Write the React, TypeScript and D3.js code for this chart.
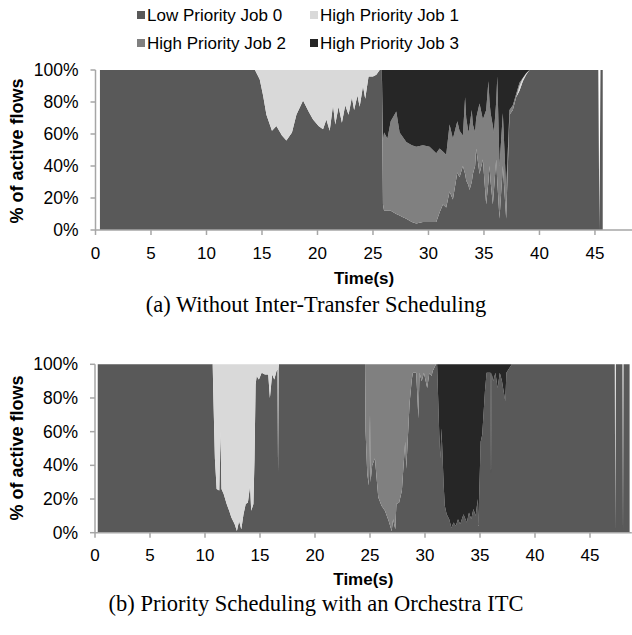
import React from "react";
import * as d3 from "d3";

// ---------- Legend / series ----------
const JOBS = ["Low Priority Job 0", "High Priority Job 1", "High Priority Job 2", "High Priority Job 3"];
const JOB_COLORS = ["#595959", "#d9d9d9", "#808080", "#262626"];
const Y_TICKS = [0, 0.2, 0.4, 0.6, 0.8, 1];
const X_TICKS = [0, 5, 10, 15, 20, 25, 30, 35, 40, 45];

// ---------- (a) Without Inter-Transfer Scheduling ----------
const TIME_A = [
  0.4, 14.37, 14.8, 15.1, 15.4, 15.9, 16.3, 16.8, 17.2, 17.7,
  18.1, 18.7, 19.2, 19.6, 20.1, 20.5, 20.8, 21.1, 21.4, 21.6,
  21.9, 22.2, 22.5, 22.8, 23.1, 23.3, 23.6, 23.8, 24.1, 24.3,
  24.6, 25.0, 25.3, 25.6, 25.8, 25.9, 26.0, 26.3, 26.6, 27.1,
  27.4, 27.7, 28.0, 28.5, 28.9, 29.5, 30.1, 30.7, 31.0, 31.3,
  31.6, 31.9, 32.2, 32.6, 32.8, 33.1, 33.3, 33.4, 33.6, 33.7,
  33.9, 34.0, 34.2, 34.3, 34.6, 34.9, 35.2, 35.4, 35.5, 35.6,
  35.8, 35.9, 36.1, 36.2, 36.4, 36.7, 37.0, 37.3, 37.6, 37.9,
  38.2, 38.5, 38.8, 39.1, 45.3, 45.4, 45.5, 45.7,
];
const JOB0_A = [
  100, 100, 94, 84, 72, 62, 65, 59, 56, 61,
  72, 81, 74, 69, 65, 63, 69, 62, 78, 66,
  77, 67, 78, 72, 83, 75, 84, 77, 90, 82,
  96, 96, 97, 100, 100, 16, 12, 12, 12, 10,
  9, 8, 7, 5, 4, 5, 5, 5, 11, 16,
  14, 24, 19, 36, 33, 40, 35, 31, 28, 25,
  30, 35, 40, 51, 35, 44, 16, 30, 40, 30,
  16, 25, 44, 30, 7, 40, 7, 72, 75, 83,
  87, 93, 97, 100, 100, 0, 100, 100,
];
const JOB1_A = [
  0, 0, 6, 16, 28, 38, 35, 41, 44, 39,
  28, 19, 26, 31, 35, 37, 31, 38, 22, 34,
  23, 33, 22, 28, 17, 25, 16, 23, 10, 18,
  4, 4, 3, 0, 0, 0, 0, 0, 0, 0,
  0, 0, 0, 0, 0, 0, 0, 0, 0, 0,
  0, 0, 0, 0, 0, 0, 0, 0, 0, 0,
  0, 0, 0, 0, 0, 0, 0, 0, 0, 0,
  0, 0, 0, 0, 0, 0, 0, 0, 0, 0,
  3, 2, 1, 0, 0, 0, 0, 0,
];
const JOB2_A = [
  0, 0, 0, 0, 0, 0, 0, 0, 0, 0,
  0, 0, 0, 0, 0, 0, 0, 0, 0, 0,
  0, 0, 0, 0, 0, 0, 0, 0, 0, 0,
  0, 0, 0, 0, 0, 40, 49, 45, 56, 64,
  52, 50, 48, 48, 48, 48, 47, 43, 40, 33,
  33, 42, 38, 32, 29, 19, 48, 39, 33, 40,
  45, 31, 21, 19, 44, 25, 59, 63, 40, 43,
  49, 36, 36, 66, 33, 33, 18, 3, 3, 2,
  2, 0, 0, 0, 0, 0, 0, 0,
];
const JOB3_A = [
  0, 0, 0, 0, 0, 0, 0, 0, 0, 0,
  0, 0, 0, 0, 0, 0, 0, 0, 0, 0,
  0, 0, 0, 0, 0, 0, 0, 0, 0, 0,
  0, 0, 0, 0, 0, 44, 39, 43, 32, 26,
  39, 42, 45, 47, 48, 47, 48, 52, 49, 51,
  53, 34, 43, 32, 38, 41, 17, 30, 39, 35,
  25, 34, 39, 30, 21, 31, 25, 7, 20, 27,
  35, 39, 20, 4, 60, 27, 75, 25, 22, 15,
  8, 5, 2, 0, 0, 0, 0, 0,
];

// ---------- (b) Priority Scheduling with an Orchestra ITC ----------
const TIME_B = [
  0.25, 10.7, 10.75, 10.9, 11.06, 11.3, 11.4, 11.5, 11.7, 11.97,
  12.2, 12.4, 12.7, 12.9, 13.1, 13.3, 13.5, 13.7, 13.9, 14.1,
  14.2, 14.4, 14.5, 14.6, 14.7, 14.9, 15.15, 15.45, 15.75, 15.9,
  16.1, 16.3, 16.5, 16.6, 16.64, 16.68, 16.72, 24.55, 24.6, 24.75,
  24.9, 25.0, 25.05, 25.2, 25.45, 25.75, 26.05, 26.36, 26.7, 26.97,
  27.1, 27.3, 27.4, 27.65, 27.9, 28.0, 28.2, 28.3, 28.5, 28.6,
  28.8, 28.9, 29.2, 29.4, 29.5, 29.7, 29.9, 30.2, 30.4, 30.6,
  30.7, 31.0, 31.1, 31.3, 31.4, 31.5, 31.7, 31.8, 31.97, 32.2,
  32.4, 32.6, 32.8, 33.0, 33.2, 33.5, 33.8, 34.0, 34.2, 34.4,
  34.6, 34.8, 34.85, 35.06, 35.2, 35.45, 35.6, 35.95, 36.0, 36.05,
  36.2, 36.4, 36.6, 36.8, 37.0, 37.3, 37.4, 37.6, 37.9, 47.25,
  47.3, 47.35, 47.95, 48.0, 48.05, 48.6,
];
const JOB0_B = [
  100, 100, 84, 44, 26, 25, 60, 26, 23, 17,
  13, 9, 5, 1, 7, 2, 11, 17, 18, 28,
  13, 17, 44, 88, 93, 91, 95, 94, 94, 80,
  94, 91, 96, 97, 36, 97, 100, 100, 60, 35,
  28, 70, 30, 40, 44, 21, 16, 13, 7, 1,
  8, 2, 17, 18, 25, 35, 54, 38, 64, 77,
  91, 95, 95, 68, 95, 90, 95, 86, 95, 93,
  96, 100, 100, 58, 44, 62, 28, 16, 11, 8,
  3, 6, 4, 8, 5, 11, 6, 12, 8, 14,
  10, 20, 4, 54, 58, 84, 95, 95, 35, 95,
  90, 95, 86, 95, 90, 78, 95, 97, 100, 100,
  0, 100, 100, 0, 100, 100,
];
const JOB1_B = [
  0, 0, 16, 56, 74, 75, 40, 74, 77, 83,
  87, 91, 95, 99, 93, 98, 89, 83, 82, 72,
  87, 83, 56, 12, 7, 9, 5, 6, 6, 20,
  6, 9, 4, 3, 64, 3, 0, 0, 0, 0,
  0, 0, 0, 0, 0, 0, 0, 0, 0, 0,
  0, 0, 0, 0, 0, 0, 0, 0, 0, 0,
  0, 0, 0, 0, 0, 0, 0, 0, 0, 0,
  0, 0, 0, 0, 0, 0, 0, 0, 0, 0,
  0, 0, 0, 0, 0, 0, 0, 0, 0, 0,
  0, 0, 0, 0, 0, 0, 0, 0, 0, 0,
  0, 0, 0, 0, 0, 0, 0, 0, 0, 0,
  0, 0, 0, 0, 0, 0,
];
const JOB2_B = [
  0, 0, 0, 0, 0, 0, 0, 0, 0, 0,
  0, 0, 0, 0, 0, 0, 0, 0, 0, 0,
  0, 0, 0, 0, 0, 0, 0, 0, 0, 0,
  0, 0, 0, 0, 0, 0, 0, 0, 40, 65,
  72, 30, 70, 60, 56, 79, 84, 87, 93, 99,
  92, 98, 83, 82, 75, 65, 46, 62, 36, 23,
  9, 5, 5, 32, 5, 10, 5, 14, 5, 7,
  4, 0, 0, 0, 0, 0, 0, 0, 0, 0,
  0, 0, 0, 0, 0, 0, 0, 0, 0, 0,
  0, 0, 0, 0, 0, 0, 0, 0, 0, 0,
  0, 0, 0, 0, 0, 0, 0, 0, 0, 0,
  0, 0, 0, 0, 0, 0,
];
const JOB3_B = [
  0, 0, 0, 0, 0, 0, 0, 0, 0, 0,
  0, 0, 0, 0, 0, 0, 0, 0, 0, 0,
  0, 0, 0, 0, 0, 0, 0, 0, 0, 0,
  0, 0, 0, 0, 0, 0, 0, 0, 0, 0,
  0, 0, 0, 0, 0, 0, 0, 0, 0, 0,
  0, 0, 0, 0, 0, 0, 0, 0, 0, 0,
  0, 0, 0, 0, 0, 0, 0, 0, 0, 0,
  0, 0, 0, 42, 56, 38, 72, 84, 89, 92,
  97, 94, 96, 92, 95, 89, 94, 88, 92, 86,
  90, 80, 96, 46, 42, 16, 5, 5, 65, 5,
  10, 5, 14, 5, 10, 22, 5, 3, 0, 0,
  0, 0, 0, 0, 0, 0,
];

const FONT = "'Liberation Sans', Arial, Helvetica, sans-serif";
const SERIF = "'Liberation Serif', 'Times New Roman', Times, serif";
const AXIS_COLOR = "#a6a6a6";

type Panel = {
  time: number[];
  jobs: number[][];
  xMax: number;
  xRange: [number, number];
  yRange: [number, number];
  titleY: number;
  tickLabelY: number;
  timeLabelY: number;
  captionY: number;
  caption: string;
};

function StackedPanel({ p }: { p: Panel }) {
  const x = d3.scaleLinear().domain([0, p.xMax]).range(p.xRange);
  const y = d3.scaleLinear().domain([0, 1]).range(p.yRange);
  const rows = p.time.map((t, i) => ({
    t,
    j0: p.jobs[0][i],
    j1: p.jobs[1][i],
    j2: p.jobs[2][i],
    j3: p.jobs[3][i],
  }));
  const keys = ["j0", "j1", "j2", "j3"];
  const series = d3.stack<any>().keys(keys).offset(d3.stackOffsetExpand)(rows);
  const area = d3
    .area<any>()
    .x((d) => x(d.data.t))
    .y0((d) => y(isNaN(d[0]) ? 0 : d[0]))
    .y1((d) => y(isNaN(d[1]) ? 0 : d[1]));
  const x0 = x(0);
  const [yBottom, yTop] = p.yRange;
  const plotCenter = (p.xRange[0] + p.xRange[1]) / 2;
  return (
    <g>
      {series.map((s, i) => (
        <path key={i} d={area(s) || ""} fill={JOB_COLORS[i]} stroke="none" />
      ))}
      {/* y axis */}
      <line x1={x0} x2={x0} y1={yTop} y2={yBottom} stroke={AXIS_COLOR} strokeWidth={1.5} />
      {Y_TICKS.map((v) => (
        <g key={v}>
          <line x1={x0 - 5} x2={x0} y1={y(v)} y2={y(v)} stroke={AXIS_COLOR} strokeWidth={1.5} />
          <text
            x={x0 - 17}
            y={y(v)}
            textAnchor="end"
            dominantBaseline="central"
            fontFamily={FONT}
            fontSize={17.5}
            fill="#000"
          >
            {d3.format(".0%")(v)}
          </text>
        </g>
      ))}
      {/* x axis */}
      <line x1={x0} x2={p.xRange[1]} y1={yBottom} y2={yBottom} stroke={AXIS_COLOR} strokeWidth={1.5} />
      {X_TICKS.map((v) => (
        <g key={v}>
          <line x1={x(v)} x2={x(v)} y1={yBottom} y2={yBottom + 5} stroke={AXIS_COLOR} strokeWidth={1.5} />
          <text
            x={x(v)}
            y={p.tickLabelY}
            textAnchor="middle"
            dominantBaseline="central"
            fontFamily={FONT}
            fontSize={17}
            fill="#000"
          >
            {v}
          </text>
        </g>
      ))}
      <text
        transform={`translate(17, ${p.titleY}) rotate(-90)`}
        textAnchor="middle"
        dominantBaseline="central"
        fontFamily={FONT}
        fontWeight="bold"
        fontSize={18}
        fill="#000"
      >
        % of active flows
      </text>
      <text
        x={plotCenter}
        y={p.timeLabelY}
        textAnchor="middle"
        dominantBaseline="central"
        fontFamily={FONT}
        fontWeight="bold"
        fontSize={17}
        fill="#000"
      >
        Time(s)
      </text>
      <text
        x={316}
        y={p.captionY}
        textAnchor="middle"
        dominantBaseline="central"
        fontFamily={SERIF}
        fontSize={22.5}
        fill="#000"
      >
        {p.caption}
      </text>
    </g>
  );
}

export default function App() {
  const panelA: Panel = {
    time: TIME_A,
    jobs: [JOB0_A, JOB1_A, JOB2_A, JOB3_A],
    xMax: 48.4,
    xRange: [95.5, 632.7],
    yRange: [230, 70],
    titleY: 151,
    tickLabelY: 253,
    timeLabelY: 278,
    captionY: 304,
    caption: "(a)  Without Inter-Transfer Scheduling",
  };
  const panelB: Panel = {
    time: TIME_B,
    jobs: [JOB0_B, JOB1_B, JOB2_B, JOB3_B],
    xMax: 48.8,
    xRange: [95, 631.8],
    yRange: [532.7, 364.3],
    titleY: 448,
    tickLabelY: 555,
    timeLabelY: 579,
    captionY: 603,
    caption: "(b)  Priority Scheduling with an Orchestra ITC",
  };
  const legendPos = [
    [137, 15],
    [310, 15],
    [137, 43],
    [310, 43],
  ];
  return (
    <svg
      width={632}
      height={635}
      style={{ position: "absolute", left: 0, top: 0, background: "#fff" }}
    >
      <rect x={0} y={0} width={632} height={635} fill="#fff" />
      {JOBS.map((name, i) => (
        <g key={name}>
          <rect
            x={legendPos[i][0]}
            y={legendPos[i][1] - 4}
            width={8}
            height={8}
            fill={JOB_COLORS[i]}
          />
          <text
            x={legendPos[i][0] + 10}
            y={legendPos[i][1]}
            dominantBaseline="central"
            fontFamily={FONT}
            fontSize={17}
            fill="#000"
          >
            {name}
          </text>
        </g>
      ))}
      <StackedPanel p={panelA} />
      <StackedPanel p={panelB} />
    </svg>
  );
}
